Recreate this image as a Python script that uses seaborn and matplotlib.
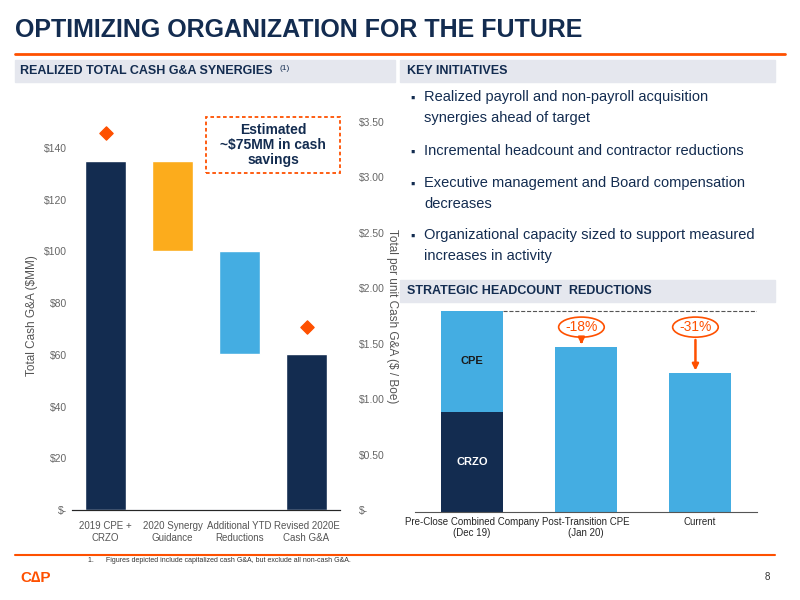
import matplotlib
matplotlib.use("Agg")
import matplotlib.pyplot as plt
import seaborn as sns
import pandas as pd
from matplotlib.patches import Rectangle, Ellipse

sns.set_style("white")
plt.rcParams['font.family'] = ['Liberation Sans', 'DejaVu Sans']

NAVY = "#132c50"
ORANGE = "#fe5000"
GOLD = "#fcac1c"
SKY = "#44ade2"
HEAD = "#e5e7ee"

# waterfall data ($MM)
ga_labels = ["2019 CPE +\nCRZO", "2020 Synergy\nGuidance", "Additional YTD\nReductions", "Revised 2020E\nCash G&A"]
ga_top = [135, 135, 100, 60.5]
ga_bottom = [0, 100, 60.5, 0]
ga_colors = [NAVY, GOLD, SKY, NAVY]
per_unit = [3.40, 1.65]   # $/Boe for first and last bar

# headcount data (index, pre-close = 100)
hc_labels = ["Pre-Close Combined Company\n(Dec 19)", "Post-Transition CPE\n(Jan 20)", "Current"]
hc_total = [100, 82, 69]
hc_crzo = [50, 0, 0]
hc_pct = ["-18%", "-31%"]

bullets = [
    "Realized payroll and non-payroll acquisition\nsynergies ahead of target",
    "Incremental headcount and contractor reductions",
    "Executive management and Board compensation\ndecreases",
    "Organizational capacity sized to support measured\nincreases in activity",
]

fig = plt.figure(figsize=(8, 6), dpi=100)

def px(x, y):
    return x / 800, 1 - y / 600

# title and header bars
fig.text(*px(15, 30), "OPTIMIZING ORGANIZATION FOR THE FUTURE", fontsize=18, fontweight="bold",
         color=NAVY, va="center")
fig.add_artist(plt.Line2D([15 / 800, 785 / 800], [1 - 54 / 600] * 2, color=ORANGE, lw=2))
fig.add_artist(Rectangle(px(15, 82), 380 / 800, 22 / 600, color=HEAD, transform=fig.transFigure))
fig.add_artist(Rectangle(px(400, 82), 375 / 800, 22 / 600, color=HEAD, transform=fig.transFigure))
fig.add_artist(Rectangle(px(400, 302), 375 / 800, 22 / 600, color=HEAD, transform=fig.transFigure))
fig.text(*px(20, 71), "REALIZED TOTAL CASH G&A SYNERGIES", fontsize=9, fontweight="bold", color=NAVY, va="center")
fig.text(*px(280, 69), "(1)", fontsize=6, color=NAVY, va="center")
fig.text(*px(407, 71), "KEY INITIATIVES", fontsize=9, fontweight="bold", color=NAVY, va="center")
fig.text(*px(407, 291), "STRATEGIC HEADCOUNT  REDUCTIONS", fontsize=9, fontweight="bold", color=NAVY, va="center")

ys = [93, 147, 179, 231]
for y, b in zip(ys, bullets):
    fig.text(*px(410, y), "▪", fontsize=9, color=NAVY, va="top")
    fig.text(*px(424, y - 3), b, fontsize=10.5, color=NAVY, va="top", linespacing=1.6)

# left waterfall chart
ax = fig.add_axes([*px(72, 510), 268 / 800, 388 / 600])
ax.bar(range(4), [t - b for t, b in zip(ga_top, ga_bottom)], bottom=ga_bottom, color=ga_colors, width=0.62)
ax.set_ylim(0, 150)
ax.set_xlim(-0.5, 3.5)
ax.set_yticks(range(0, 141, 20))
ax.set_yticklabels(["$-"] + [f"${v}" for v in range(20, 141, 20)], fontsize=7.5, color="#666666")
ax.set_xticks(range(4))
ax.set_xticklabels(ga_labels, fontsize=7, color="#555555")
ax.set_ylabel("Total Cash G&A ($MM)", fontsize=8.5, color="#555555")
sns.despine(ax=ax, left=True)
ax.spines["bottom"].set_color("#2a3f6a")
ax.tick_params(length=0)
ax.tick_params(axis="x", pad=8)

ax2 = ax.twinx()
ax2.set_ylim(0, 3.5)
ax2.scatter([0, 3], per_unit, marker="D", color=ORANGE, s=45, zorder=5)
ax2.set_yticks([0, 0.5, 1, 1.5, 2, 2.5, 3, 3.5])
ax2.set_yticklabels(["$-", "$0.50", "$1.00", "$1.50", "$2.00", "$2.50", "$3.00", "$3.50"], fontsize=7.5, color="#666666")
ax2.set_ylabel("Total per unit Cash G&A ($ / Boe)", fontsize=8.5, color="#555555", rotation=270, labelpad=9)
sns.despine(ax=ax2, left=True, right=True)
ax2.tick_params(length=0, pad=14)

fig.add_artist(Rectangle(px(206, 173), 134 / 800, 56 / 600, fill=False, ec=ORANGE, ls=(0, (2, 1.5)),
                         lw=1.3, transform=fig.transFigure))
fig.text(*px(273, 145), "Estimated\n~$75MM in cash\nsavings", fontsize=10, fontweight="bold", color=NAVY,
         ha="center", va="center", linespacing=1.1)

# right headcount chart
hx = fig.add_axes([*px(415, 512), 342 / 800, 212 / 600])
df = pd.DataFrame({"label": hc_labels, "total": hc_total, "crzo": hc_crzo})
sns.barplot(data=df, x="label", y="total", color=SKY, width=0.55, ax=hx, saturation=1, linewidth=0)
sns.barplot(data=df, x="label", y="crzo", color=NAVY, width=0.55, ax=hx, saturation=1, linewidth=0)
hx.set_ylim(0, 105.5)
hx.set_xlim(-0.5, 2.5)
hx.set_xlabel("")
hx.set_ylabel("")
hx.set_yticks([])
hx.tick_params(axis="x", length=0, labelsize=7)
sns.despine(ax=hx, left=True)
hx.spines["bottom"].set_color("#555555")
hx.plot([0.275, 2.5], [hc_total[0]] * 2, ls="--", color="#555555", lw=0.8)
hx.text(0, hc_crzo[0] + (hc_total[0] - hc_crzo[0]) / 2, "CPE", ha="center", va="center", fontsize=8, fontweight="bold", color="#1a1a1a")
hx.text(0, hc_crzo[0] / 2, "CRZO", ha="center", va="center", fontsize=8, fontweight="bold", color="white")
for i, p in zip([1, 2], hc_pct):
    hx.add_patch(Ellipse((i - 0.04, 92), 0.4, 10, fill=False, ec=ORANGE, lw=1.2))
    hx.text(i - 0.04, 92, p, ha="center", va="center", fontsize=10, color=ORANGE)
    hx.annotate("", xy=(i - 0.04, hc_total[i]), xytext=(i - 0.04, 87),
                arrowprops=dict(arrowstyle="-|>", color=ORANGE, lw=1.8, mutation_scale=9))

# footer
fig.add_artist(plt.Line2D([15 / 800, 775 / 800], [1 - 555 / 600] * 2, color=ORANGE, lw=1.5))
fig.text(*px(88, 561), "1.      Figures depicted include capitalized cash G&A, but exclude all non-cash G&A.",
         fontsize=5, color="#333333", va="center")
fig.text(*px(20, 578), "C∆P", fontsize=11, fontweight="bold", color=ORANGE, va="center")
fig.text(*px(765, 577), "8", fontsize=7, color="#333333", va="center")

fig.savefig("out.png", dpi=100)
